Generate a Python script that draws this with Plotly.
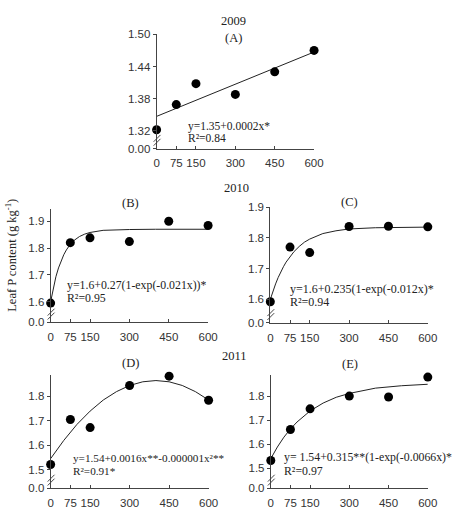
import plotly.graph_objects as go

W, H = 466, 512

# ---------------- data ----------------
doses = [0, 75, 150, 300, 450, 600]
leafP_A = [1.322, 1.369, 1.408, 1.388, 1.430, 1.470]
leafP_B = [1.595, 1.820, 1.838, 1.824, 1.900, 1.884]
leafP_C = [1.592, 1.770, 1.752, 1.837, 1.838, 1.836]
leafP_D = [1.522, 1.705, 1.672, 1.843, 1.881, 1.783]
leafP_E = [1.532, 1.661, 1.747, 1.800, 1.796, 1.879]

fitx_A = [0, 600]
fity_A = [1.347, 1.467]
fitx_B = [0, 10, 20, 30, 40, 50, 60, 75, 90, 110, 130, 150, 200, 250, 300, 400, 500, 600]
fity_B = [1.600, 1.651, 1.693, 1.726, 1.753, 1.775, 1.793, 1.814, 1.829, 1.843, 1.852, 1.858, 1.866, 1.868, 1.869, 1.870, 1.870, 1.870]
fitx_C = [0, 10, 20, 30, 40, 50, 60, 75, 90, 110, 130, 150, 200, 250, 300, 400, 500, 600]
fity_C = [1.600, 1.627, 1.650, 1.671, 1.690, 1.706, 1.721, 1.740, 1.755, 1.772, 1.786, 1.796, 1.814, 1.823, 1.829, 1.833, 1.834, 1.835]
fitx_D = [0, 50, 100, 150, 200, 250, 300, 350, 400, 450, 500, 550, 600]
fity_D = [1.546, 1.620, 1.685, 1.739, 1.784, 1.818, 1.843, 1.858, 1.863, 1.858, 1.843, 1.818, 1.784]
fitx_E = [0, 25, 50, 75, 100, 150, 200, 250, 300, 400, 500, 600]
fity_E = [1.540, 1.588, 1.629, 1.663, 1.692, 1.738, 1.771, 1.795, 1.811, 1.833, 1.843, 1.849]

x_ticks = [0, 75, 150, 300, 450, 600]
ytick_A = ["0.00", "1.32", "1.38", "1.44", "1.50"]
ytick_B = ["0.0", "1.6", "1.7", "1.8", "1.9"]
ytick_C = ["0.0", "1.6", "1.7", "1.8", "1.9"]
ytick_D = ["0.0", "1.5", "1.6", "1.7", "1.8"]
ytick_E = ["0.0", "1.5", "1.6", "1.7", "1.8"]
yval_A = [1.287, 1.32, 1.38, 1.44, 1.50]
yval_B = [1.523, 1.6, 1.7, 1.8, 1.9]
yval_C = [1.523, 1.6, 1.7, 1.8, 1.9]
yval_D = [1.425, 1.5, 1.6, 1.7, 1.8]
yval_E = [1.416, 1.5, 1.6, 1.7, 1.8]

eq_A = ["y=1.35+0.0002x*", "R²=0.84"]
eq_B = ["y=1.6+0.27(1-exp(-0.021x))*", "R²=0.95"]
eq_C = ["y=1.6+0.235(1-exp(-0.012x)*", "R²=0.94"]
eq_D = ["y=1.54+0.0016x**-0.000001x²**", "R²=0.91*"]
eq_E = ["y= 1.54+0.315**(1-exp(-0.0066x)*", "R²=0.97"]

# ---------------- layout (pixel boxes) ----------------
def px(x):
    return x / W

def py(y):
    return 1 - y / H

panels = [
    ("A", 158, 320, 29, 146, [1.287, 1.50], yval_A, ytick_A, leafP_A, fitx_A, fity_A),
    ("B", 49, 211, 208, 324, [1.523, 1.945], yval_B, ytick_B, leafP_B, fitx_B, fity_B),
    ("C", 275, 437, 206, 324.5, [1.523, 1.90], yval_C, ytick_C, leafP_C, fitx_C, fity_C),
    ("D", 49, 211.5, 378, 494, [1.425, 1.885], yval_D, ytick_D, leafP_D, fitx_D, fity_D),
    ("E", 275.5, 437, 378, 494, [1.416, 1.887], yval_E, ytick_E, leafP_E, fitx_E, fity_E),
]

fig = go.Figure()
tickfont = dict(family="Liberation Sans, Arial, sans-serif", size=11.5, color="#333333")
serif = "Liberation Serif, Times New Roman, serif"

shapes = []
for i, (name, x0, x1, yt, yb, yr, yv, ytxt, pts, fx, fy) in enumerate(panels):
    k = "" if i == 0 else str(i + 1)
    fig.add_trace(go.Scatter(x=fx, y=fy, mode="lines", line=dict(color="#222222", width=1),
                             xaxis="x" + k, yaxis="y" + k, showlegend=False, hoverinfo="skip",
                             cliponaxis=False))
    fig.add_trace(go.Scatter(x=doses, y=pts, mode="markers",
                             marker=dict(color="black", size=9),
                             xaxis="x" + k, yaxis="y" + k, showlegend=False, cliponaxis=False))
    fig.layout["xaxis" + k] = dict(domain=[px(x0), px(x1)], range=[0, 600], anchor="y" + k,
                                    tickvals=x_ticks, ticks="inside", ticklen=3, tickcolor="#444",
                                    showline=True, linecolor="#444", linewidth=1,
                                    ticklabelstandoff=4,
                                    showgrid=False, zeroline=False, tickfont=tickfont, fixedrange=True)
    fig.layout["yaxis" + k] = dict(domain=[py(yb), py(yt)], range=yr, anchor="x" + k,
                                    tickvals=yv, ticktext=ytxt, ticks="outside", ticklen=3,
                                    tickcolor="#444", showline=True, linecolor="#444", linewidth=1,
                                    showgrid=False, zeroline=False, tickfont=tickfont, fixedrange=True)
    # axis break marks "//"
    for dy in (0, 4):
        shapes.append(dict(type="line", xref="paper", yref="paper",
                           x0=px(x0 - 3), y0=py(yb - 3 - dy), x1=px(x0 + 4), y1=py(yb - 10 - dy),
                           line=dict(color="#444", width=1)))
fig.update_layout(shapes=shapes)

ann = []
def text(x, y, t, size=12.5, xanchor="center", angle=0):
    ann.append(dict(x=px(x), y=py(y), xref="paper", yref="paper", text=t, showarrow=False,
                    xanchor=xanchor, yanchor="middle", textangle=angle,
                    font=dict(family=serif, size=size, color="#222222")))

text(237, 15, "2009")
text(237, 33, "(A)")
text(240, 186, "2010")
text(131, 202, "(B)")
text(356, 201, "(C)")
text(238, 358, "2011")
text(131, 366, "(D)")
text(357, 367, "(E)")

eqs = [
    (eq_A, 188, 123.5, 135.5, 11.5),
    (eq_B, 64, 286, 298.5, 11.8),
    (eq_C, 293, 290, 303, 12),
    (eq_D, 70, 462.5, 476, 11.2),
    (eq_E, 287, 462, 476.5, 11.8),
]
for lines, x, y1, y2, fs in eqs:
    text(x, y1, lines[0], size=fs, xanchor="left")
    text(x, y2, lines[1], size=fs, xanchor="left")

text(8, 255, "Leaf P content (g kg<sup>-1</sup>)", size=12.5, angle=-90)

fig.update_layout(annotations=ann, width=W, height=H,
                  margin=dict(l=0, r=0, t=0, b=0),
                  paper_bgcolor="white", plot_bgcolor="white")

fig.write_html("out.html", config={"displayModeBar": False})
